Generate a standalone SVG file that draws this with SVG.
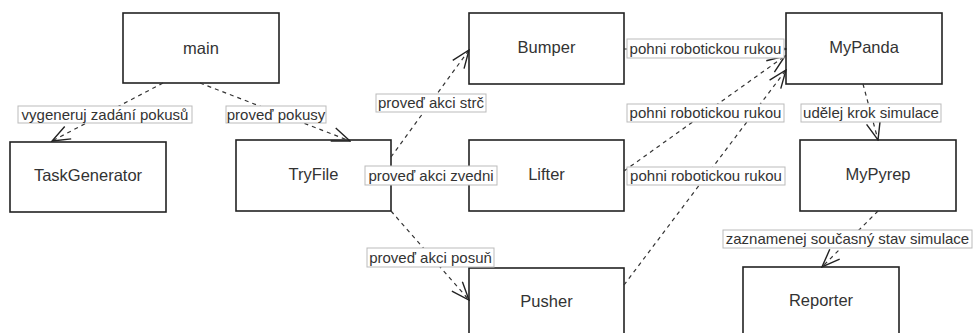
<svg xmlns="http://www.w3.org/2000/svg" width="978" height="333" viewBox="0 0 978 333">
  <style>
    .node rect { fill: #fff; stroke: #222; stroke-width: 1.6; }
    .node text { font-family: "Liberation Sans", Arial, sans-serif; font-size: 16.5px; fill: #333; text-anchor: middle; dominant-baseline: central; }
    .edge { fill: none; stroke: #333; stroke-width: 1.2; stroke-dasharray: 4 4; marker-end: url(#arrow); }
    .lbl rect { fill: #fff; stroke: #bbb; stroke-width: 1; }
    .lbl text { font-family: "Liberation Sans", Arial, sans-serif; font-size: 15px; fill: #333; text-anchor: middle; }
  </style>
  <defs>
    <marker id="arrow" viewBox="0 0 20 16" refX="19" refY="8" markerWidth="20" markerHeight="16" markerUnits="userSpaceOnUse" orient="auto">
      <path d="M1,1 L19,8 L1,15" fill="none" stroke="#222" stroke-width="1.4"/>
    </marker>
  </defs>

  <rect width="978" height="333" fill="#fff"/>

  <!-- nodes -->
  <g id="main" class="node"><rect x="123" y="13" width="156" height="70"/><text x="201" y="48">main</text></g>
  <g id="TaskGenerator" class="node"><rect x="10" y="142" width="156" height="70"/><text x="88" y="175">TaskGenerator</text></g>
  <g id="TryFile" class="node"><rect x="236" y="140" width="155" height="71"/><text x="313.5" y="174">TryFile</text></g>
  <g id="Bumper" class="node"><rect x="469" y="13" width="155" height="71"/><text x="546.5" y="47">Bumper</text></g>
  <g id="Lifter" class="node"><rect x="469" y="140" width="155" height="71"/><text x="546.5" y="174">Lifter</text></g>
  <g id="Pusher" class="node"><rect x="469" y="268" width="155" height="70"/><text x="546.5" y="301">Pusher</text></g>
  <g id="MyPanda" class="node"><rect x="786" y="13" width="156" height="71"/><text x="864" y="47">MyPanda</text></g>
  <g id="MyPyrep" class="node"><rect x="800" y="140" width="156" height="71"/><text x="878" y="174">MyPyrep</text></g>
  <g id="Reporter" class="node"><rect x="743" y="267" width="156" height="70"/><text x="821" y="300">Reporter</text></g>

  <!-- connectors -->
  <g id="connectors">
    <path class="edge" d="M163,83 L52,141"/>
    <path class="edge" d="M200,83 L350,141"/>
    <path class="edge" d="M391,157 L469,50"/>
    <path class="edge" d="M391,175 L469,175"/>
    <path class="edge" d="M391,211 L469,300"/>
    <path class="edge" d="M624,49 L786,49"/>
    <path class="edge" d="M624,171 L785,56"/>
    <path class="edge" d="M624,285 L786,70"/>
    <path class="edge" d="M863,84 L878,140"/>
    <path class="edge" d="M878,211 L822,267"/>

    <g class="lbl"><rect x="18" y="106" width="174" height="17"/><text x="105" y="119.5">vygeneruj zadání pokusů</text></g>
    <g class="lbl"><rect x="226" y="106" width="100" height="17"/><text x="276" y="119.5">proveď pokusy</text></g>
    <g class="lbl"><rect x="376" y="94" width="110" height="18"/><text x="431" y="108">proveď akci strč</text></g>
    <g class="lbl"><rect x="365" y="166" width="132" height="19"/><text x="431" y="180.5">proveď akci zvedni</text></g>
    <g class="lbl"><rect x="367" y="248" width="127" height="19"/><text x="430.5" y="262.5">proveď akci posuň</text></g>
    <g class="lbl"><rect x="627" y="39" width="157" height="19"/><text x="705.5" y="53.5">pohni robotickou rukou</text></g>
    <g class="lbl"><rect x="627" y="104" width="157" height="18"/><text x="705.5" y="118">pohni robotickou rukou</text></g>
    <g class="lbl"><rect x="627" y="167" width="158" height="18"/><text x="706" y="181">pohni robotickou rukou</text></g>
    <g class="lbl"><rect x="801" y="104" width="140" height="18"/><text x="871" y="118">udělej krok simulace</text></g>
    <g class="lbl"><rect x="723" y="230" width="249" height="18"/><text x="847.5" y="244">zaznamenej současný stav simulace</text></g>
  </g>
</svg>
